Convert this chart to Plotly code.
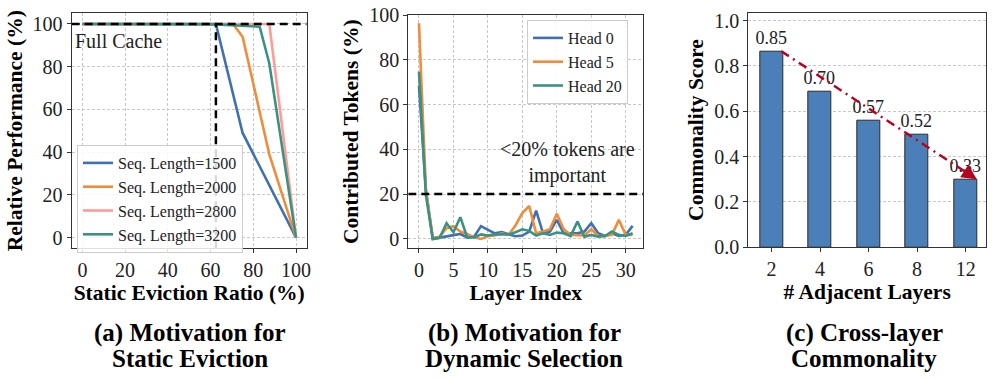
import plotly.graph_objects as go

# ---------------- data ----------------
# (a) Motivation for Static Eviction
seq_labels = ["Seq. Length=1500", "Seq. Length=2000", "Seq. Length=2800", "Seq. Length=3200"]
ratio_1500 = [0, 62.5, 75, 100]
perf_1500 = [100, 100, 49, 0]
ratio_2000 = [0, 62.5, 70.5, 75, 87.5, 100]
perf_2000 = [100, 100, 100, 94, 39, 0]
ratio_2800 = [0, 62.5, 87.5, 100]
perf_2800 = [100, 100, 100, 0]
ratio_3200 = [0, 62.5, 83, 87.5, 100]
perf_3200 = [100, 99.8, 98.7, 81.5, 0]
full_cache_level = 100
static_ratio = 62.5

# (b) Motivation for Dynamic Selection
layers = list(range(32))
head_labels = ["Head 0", "Head 5", "Head 20"]
head0 = [68.3, 22, 0, 0.5, 1, 1.5, 2.2, 0.7, 1, 5.7, 4.2, 2.5, 3, 2.2, 1.2, 1.5,
         3.3, 12.6, 2.5, 3.3, 8.5, 2.5, 2.5, 2.5, 3.3, 7, 2.5, 1.3, 2.5, 1.3, 1.8, 5.8]
head5 = [96.3, 22, 0.5, 1, 4.8, 5.7, 3.3, 2.2, 0.7, 0, 1.2, 1.5, 2.5, 1.8, 6, 11.5,
         14.7, 2.5, 3.3, 4.3, 11.2, 4.3, 1.8, 1.6, 1.5, 4.3, 1.3, 1.3, 1.8, 8.5, 1.8, 1.8]
head20 = [74.7, 19.6, 0, 0.5, 7, 3, 9.7, 0.7, 0.7, 2, 1.5, 2, 2, 2, 3, 4.3,
          3.6, 1.5, 2.5, 1.8, 2.8, 2.5, 1.3, 7.7, 1, 1.8, 1, 1.3, 3.3, 1.8, 1.3, 2.5]
threshold = 20

# (c) Cross-layer Commonality
adjacent_layers = ["2", "4", "6", "8", "12"]
commonality = [0.865, 0.685, 0.56, 0.495, 0.30]
commonality_labels = ["0.85", "0.70", "0.57", "0.52", "0.33"]

# ---------------- style ----------------
FONT = "Liberation Serif"
BLUE = "#3f70b0"
ORANGE = "#f08c3a"
PINK = "#ff9c98"
GREEN = "#3c9282"
RED = "#b8001f"
BAR = "#4a7fb8"


def f(size, color="#222"):
    return dict(family=FONT, size=size, color=color)


fig = go.Figure()

for xs, ys, name, col in [
    (ratio_1500, perf_1500, seq_labels[0], BLUE),
    (ratio_2000, perf_2000, seq_labels[1], ORANGE),
    (ratio_2800, perf_2800, seq_labels[2], PINK),
    (ratio_3200, perf_3200, seq_labels[3], GREEN),
]:
    fig.add_trace(go.Scatter(x=xs, y=ys, mode="lines", name=name,
                             line=dict(color=col, width=2.6),
                             xaxis="x", yaxis="y", legend="legend"))

for ys, name, col in [(head0, head_labels[0], BLUE), (head5, head_labels[1], ORANGE),
                      (head20, head_labels[2], GREEN)]:
    fig.add_trace(go.Scatter(x=layers, y=ys, mode="lines", name=name,
                             line=dict(color=col, width=2.6),
                             xaxis="x2", yaxis="y2", legend="legend2"))

pos = list(range(len(adjacent_layers)))
fig.add_trace(go.Bar(x=pos, y=commonality, width=0.47, text=commonality_labels,
                     textposition="outside", textfont=f(18), constraintext="none",
                     marker=dict(color=BAR, line=dict(color="#2a2a2a", width=1)),
                     cliponaxis=False, showlegend=False, xaxis="x3", yaxis="y3"))

# trend arrow in (c)
x0, y0 = pos[0] + 0.2, commonality[0]
x1, y1 = pos[-1] + 0.23, commonality[-1]
fig.add_trace(go.Scatter(x=[x0, x0 + (x1 - x0) * 0.95], y=[y0, y0 + (y1 - y0) * 0.95],
                         mode="lines", line=dict(color=RED, width=2.5, dash="9px,5px,2px,5px"),
                         showlegend=False, xaxis="x3", yaxis="y3", hoverinfo="skip"))
fig.add_annotation(x=x1, y=y1, ax=x0 + (x1 - x0) * 0.94, ay=y0 + (y1 - y0) * 0.94,
                   xref="x3", yref="y3", axref="x3", ayref="y3", text="",
                   showarrow=True, arrowhead=2, arrowsize=1.2, arrowwidth=2.5, arrowcolor=RED)

# reference lines
fig.add_shape(type="line", xref="x", yref="y", x0=-5, x1=105, y0=full_cache_level,
              y1=full_cache_level, line=dict(color="black", width=2.5, dash="8px,5px"))
fig.add_shape(type="line", xref="x", yref="y", x0=static_ratio, x1=static_ratio, y0=-5,
              y1=full_cache_level, line=dict(color="black", width=2.5, dash="8px,5px"))
fig.add_shape(type="line", xref="x2", yref="y2", x0=-1.55, x1=32.55, y0=threshold,
              y1=threshold, line=dict(color="black", width=2.5, dash="8px,5px"))

fig.add_annotation(x=-4.6, y=92, xref="x", yref="y", text="Full Cache", showarrow=False,
                   xanchor="left", yanchor="middle", font=f(20))
fig.add_annotation(x=21.5, y=34, xref="x2", yref="y2", text="&lt;20% tokens are<br>important",
                   showarrow=False, xanchor="center", yanchor="middle", font=f(20))

# captions
for cx, l1, l2 in [(190, "(a) Motivation for", "Static Eviction"),
                   (524, "(b) Motivation for", "Dynamic Selection"),
                   (864, "(c) Cross-layer", "Commonality")]:
    fig.add_annotation(x=cx / 997, y=1 - 333 / 379, xref="paper", yref="paper",
                       text="<b>" + l1 + "</b>", showarrow=False, xanchor="center",
                       yanchor="middle", font=f(25, "black"))
    fig.add_annotation(x=cx / 997, y=1 - 358 / 379, xref="paper", yref="paper",
                       text="<b>" + l2 + "</b>", showarrow=False, xanchor="center",
                       yanchor="middle", font=f(25, "black"))


def ax(**kw):
    d = dict(showline=True, mirror=True, linecolor="#333", linewidth=1.2, ticks="outside",
             ticklen=4, tickcolor="#333", tickfont=f(20),
             showgrid=True, gridcolor="#c8c8c8", griddash="3px,2px", gridwidth=0.8,
             zeroline=False, automargin=False)
    d.update(kw)
    return d


def ttl(text):
    return dict(text="<b>" + text + "</b>", font=f(21.5, "black"), standoff=4)


W, H = 997, 379
fig.update_layout(
    width=W, height=H, autosize=False,
    margin=dict(l=0, r=0, t=0, b=0),
    paper_bgcolor="white", plot_bgcolor="white",
    font=f(16),
    xaxis=ax(domain=[71.7 / W, 306.7 / W], range=[-5, 105], tickvals=[0, 20, 40, 60, 80, 100],
             anchor="y", title=ttl("Static Eviction Ratio (%)")),
    yaxis=ax(domain=[1 - 248.3 / H, 1 - 13.3 / H], range=[-5, 105], tickvals=[0, 20, 40, 60, 80, 100],
             anchor="x", title=ttl("Relative Performance (%)")),
    xaxis2=ax(domain=[408.3 / W, 643.3 / W], range=[-1.55, 32.55], tickvals=[0, 5, 10, 15, 20, 25, 30],
              anchor="y2", title=ttl("Layer Index")),
    yaxis2=ax(domain=[1 - 248.3 / H, 1 - 15 / H], range=[-4.2, 100], tickvals=[0, 20, 40, 60, 80, 100],
              anchor="x2", title=ttl("Contributed Tokens (%)")),
    xaxis3=ax(domain=[748.3 / W, 986 / W], range=[-0.48, 4.42], tickvals=pos, ticktext=adjacent_layers,
              showgrid=False, anchor="y3", title=ttl("# Adjacent Layers")),
    yaxis3=ax(domain=[1 - 247.3 / H, 1 - 12.7 / H], range=[0, 1.035], tickvals=[0, 0.2, 0.4, 0.6, 0.8, 1.0],
              tickformat=".1f", anchor="x3", title=ttl("Commonality Score")),
    legend=dict(x=77 / W, y=1 - 145 / H, xanchor="left", yanchor="top",
                bgcolor="rgba(255,255,255,0.85)", bordercolor="#cccccc", borderwidth=1,
                font=f(16), itemwidth=30, tracegroupgap=0),
    legend2=dict(x=527 / W, y=1 - 20 / H, xanchor="left", yanchor="top",
                 bgcolor="rgba(255,255,255,0.85)", bordercolor="#cccccc", borderwidth=1,
                 font=f(16), itemwidth=30, tracegroupgap=0),
    bargap=0,
)

fig.write_html("out.html", config={"displayModeBar": False},
               post_script="document.body.style.margin='0';")
